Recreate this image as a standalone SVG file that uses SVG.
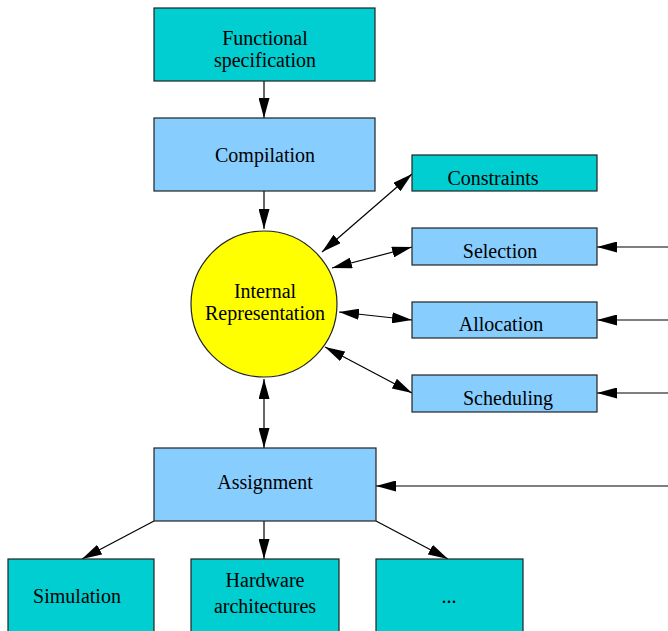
<svg xmlns="http://www.w3.org/2000/svg" width="668" height="631" viewBox="0 0 668 631">
<defs>
<style>
.t{font-family:"Liberation Serif","Times New Roman",serif;font-size:20px;fill:#000;text-anchor:middle}
.c{fill:#00CED1;stroke:#222;stroke-width:1.2}
.b{fill:#87CEFF;stroke:#222;stroke-width:1.2}
.e{stroke:#000;stroke-width:1.2;fill:none}
</style>
<marker id="a" viewBox="0 0 20 11" refX="20" refY="5.5" markerWidth="20" markerHeight="11" markerUnits="userSpaceOnUse" orient="auto-start-reverse">
<path d="M0,0 L20,5.5 L0,11 z" fill="#000"/>
</marker>
</defs>
<rect width="668" height="631" fill="#fff"/>
<g id="connectors">
<line class="e" x1="264" y1="81" x2="264" y2="118" marker-end="url(#a)"/>
<line class="e" x1="264" y1="191" x2="264" y2="229" marker-end="url(#a)"/>
<line class="e" x1="322" y1="252" x2="412" y2="174" marker-start="url(#a)" marker-end="url(#a)"/>
<line class="e" x1="332" y1="268" x2="412" y2="247" marker-start="url(#a)" marker-end="url(#a)"/>
<line class="e" x1="339" y1="312" x2="412" y2="320" marker-start="url(#a)" marker-end="url(#a)"/>
<line class="e" x1="325" y1="347" x2="412" y2="393" marker-start="url(#a)" marker-end="url(#a)"/>
<line class="e" x1="668" y1="247" x2="597" y2="247" marker-end="url(#a)"/>
<line class="e" x1="668" y1="320" x2="597" y2="320" marker-end="url(#a)"/>
<line class="e" x1="668" y1="393" x2="597" y2="393" marker-end="url(#a)"/>
<line class="e" x1="264" y1="379" x2="264" y2="448" marker-start="url(#a)" marker-end="url(#a)"/>
<line class="e" x1="668" y1="486" x2="376" y2="486" marker-end="url(#a)"/>
<line class="e" x1="154" y1="521" x2="82" y2="559" marker-end="url(#a)"/>
<line class="e" x1="264" y1="521" x2="264" y2="559" marker-end="url(#a)"/>
<line class="e" x1="376" y1="521" x2="448" y2="559" marker-end="url(#a)"/>
</g>
<g id="functional"><rect class="c" x="154" y="8" width="221" height="73"/><text class="t" x="265" y="45">Functional</text><text class="t" x="265" y="67">specification</text></g>
<g id="compilation"><rect class="b" x="154" y="118" width="221" height="73"/><text class="t" x="265" y="162">Compilation</text></g>
<g id="ir"><circle cx="264" cy="304" r="73" fill="#FFFF00" stroke="#222" stroke-width="1.2"/><text class="t" x="265" y="298">Internal</text><text class="t" x="265" y="320">Representation</text></g>
<g id="constraints"><rect class="c" x="412" y="155" width="185" height="36"/><text class="t" x="493" y="185">Constraints</text></g>
<g id="selection"><rect class="b" x="412" y="228" width="185" height="37"/><text class="t" x="500" y="258">Selection</text></g>
<g id="allocation"><rect class="b" x="412" y="302" width="185" height="36"/><text class="t" x="501" y="331">Allocation</text></g>
<g id="scheduling"><rect class="b" x="412" y="375" width="185" height="37"/><text class="t" x="508" y="405">Scheduling</text></g>
<g id="assignment"><rect class="b" x="154" y="448" width="222" height="73"/><text class="t" x="265" y="489">Assignment</text></g>
<g id="simulation"><rect class="c" x="8" y="559" width="146" height="80"/><text class="t" x="77" y="603">Simulation</text></g>
<g id="hardware"><rect class="c" x="191" y="559" width="148" height="80"/><text class="t" x="265" y="587">Hardware</text><text class="t" x="265" y="613">architectures</text></g>
<g id="more"><rect class="c" x="376" y="559" width="147" height="80"/><text class="t" x="449" y="603">...</text></g>
</svg>
